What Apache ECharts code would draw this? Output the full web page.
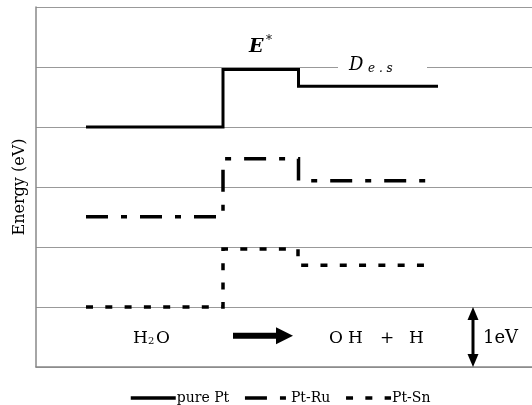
<!DOCTYPE html>
<html><head><meta charset="utf-8">
<script src="https://cdn.jsdelivr.net/npm/echarts@6/dist/echarts.min.js"></script>
<style>html,body{margin:0;padding:0;background:#fff}#c{width:532px;height:405px}</style>
</head><body><div id="c"></div>
<script>
// Reaction coordinate (x) and energy levels (eV) for each catalyst
const seriesNames = ['pure Pt', 'Pt-Ru', 'Pt-Sn'];
const ptX  = [50, 187, 262.5, 402];
const ptY  = [4.0, 4.96, 4.68, 4.68];
const ruX  = [50, 187, 262.5, 391];
const ruY  = [2.505, 3.47, 3.105, 3.105];
const snX  = [50, 187, 262, 399];
const snY  = [1.0, 1.967, 1.695, 1.695];
const yTicks = [0, 1, 2, 3, 4, 5, 6];

const zip = (xs, ys) => xs.map((x, i) => [x, ys[i]]);
const SERIF = '"DejaVu Serif", "Liberation Serif", serif';

const chart = echarts.init(document.getElementById('c'), null, {renderer: 'canvas'});
const option = {
  animation: false,
  backgroundColor: '#fff',
  color: ['#000', '#000', '#000'],
  grid: {left: 36, top: 7, width: 496, height: 360, containLabel: false},
  xAxis: {
    type: 'value', min: 0, max: 496,
    axisLine: {show: true, onZero: false, lineStyle: {color: '#888', width: 1.5}},
    axisTick: {show: false}, axisLabel: {show: false}, splitLine: {show: false}
  },
  yAxis: {
    type: 'value', min: yTicks[0], max: yTicks[yTicks.length - 1], interval: 1,
    name: 'Energy (eV)', nameLocation: 'middle', nameGap: 8,
    nameTextStyle: {fontFamily: SERIF, fontSize: 16, color: '#000'},
    axisLine: {show: true, lineStyle: {color: '#888', width: 1.5}},
    axisTick: {show: false}, axisLabel: {show: false},
    splitLine: {show: true, lineStyle: {color: '#999', width: 1}}
  },
  legend: {
    left: 124, top: 386, itemWidth: 45, itemHeight: 14, itemGap: 14,
    itemStyle: {opacity: 0},
    lineStyle: {width: 3.5},
    textStyle: {fontFamily: SERIF, fontSize: 14, color: '#000', padding: [0, 0, 0, -4]},
    data: seriesNames
  },
  series: [
    {name: seriesNames[0], type: 'line', step: 'end', symbol: 'none', data: zip(ptX, ptY),
     itemStyle: {color: '#000'},
     lineStyle: {color: '#000', width: 3, type: 'solid', cap: 'butt', join: 'miter'}, z: 3},
    {name: seriesNames[1], type: 'line', step: 'end', symbol: 'none', data: zip(ruX, ruY),
     itemStyle: {color: '#000'},
     lineStyle: {color: '#000', width: 3.5, type: [22, 13, 6, 13], cap: 'butt', join: 'miter'}, z: 3},
    {name: seriesNames[2], type: 'line', step: 'end', symbol: 'none', data: zip(snX, snY),
     itemStyle: {color: '#000'},
     lineStyle: {color: '#000', width: 3.5, type: [7, 12.3], cap: 'butt', join: 'miter'}, z: 3}
  ]
};
chart.setOption(option);

// annotations placed through the axes
const P = (x, y) => chart.convertToPixel({gridIndex: 0}, [x, y]);
const txt = (x, y, text, size, extra) => Object.assign({
  type: 'text', x: x, y: y,
  style: Object.assign({text: text, fontFamily: SERIF, fontSize: size, fill: '#000',
    align: 'left', verticalAlign: 'middle'}, extra || {}), z: 10
});
const eStar = P(213, 5.33);
const dLab = P(313, 5.03);
const gapL = P(302, 5.0), gapR = P(391, 5.0);
const h2o = P(97, 0.48);
const arr0 = P(197, 0.52), arr1 = P(257, 0.52);
const oh = P(293, 0.48);
const dbl0 = P(437, 1), dbl1 = P(437, 0);
const ev = P(447, 0.48);

const g = [];
// white gap behind D label
g.push({type: 'rect', shape: {x: gapL[0], y: gapL[1] - 6, width: gapR[0] - gapL[0], height: 12},
  style: {fill: '#fff'}, z: 9});
g.push(txt(eStar[0], eStar[1], 'E', 19, {fontStyle: 'italic', fontWeight: 'bold'}));
g.push(txt(eStar[0] + 17, eStar[1] - 6, '*', 12, {fontStyle: 'italic'}));
g.push(txt(dLab[0], dLab[1], 'D', 18, {fontStyle: 'italic'}));
g.push(txt(dLab[0] + 19, dLab[1] + 4, 'e . s', 12, {fontStyle: 'italic'}));
// H2O
g.push(txt(h2o[0], h2o[1], 'H', 17));
g.push(txt(h2o[0] + 15, h2o[1] + 3, '2', 10));
g.push(txt(h2o[0] + 23, h2o[1], 'O', 17));
// reaction arrow
g.push({type: 'rect', shape: {x: arr0[0], y: arr0[1] - 3, width: arr1[0] - arr0[0] - 15, height: 6},
  style: {fill: '#000'}, z: 10});
g.push({type: 'polygon', shape: {points: [[arr1[0] - 17, arr1[1] - 8.5], [arr1[0], arr1[1]], [arr1[0] - 17, arr1[1] + 8.5]]},
  style: {fill: '#000'}, z: 10});
// OH + H
g.push(txt(oh[0], oh[1], 'O', 17));
g.push(txt(oh[0] + 19, oh[1], 'H', 17));
g.push(txt(oh[0] + 51, oh[1], '+', 17));
g.push(txt(oh[0] + 80, oh[1], 'H', 17));
// 1 eV double arrow
g.push({type: 'line', shape: {x1: dbl0[0], y1: dbl0[1] + 10, x2: dbl1[0], y2: dbl1[1] - 10},
  style: {stroke: '#000', lineWidth: 3}, z: 10});
g.push({type: 'polygon', shape: {points: [[dbl0[0], dbl0[1]], [dbl0[0] + 5.5, dbl0[1] + 13], [dbl0[0] - 5.5, dbl0[1] + 13]]},
  style: {fill: '#000'}, z: 10});
g.push({type: 'polygon', shape: {points: [[dbl1[0], dbl1[1]], [dbl1[0] + 5.5, dbl1[1] - 13], [dbl1[0] - 5.5, dbl1[1] - 13]]},
  style: {fill: '#000'}, z: 10});
g.push(txt(ev[0], ev[1], '1eV', 18));
chart.setOption({graphic: {elements: g}});
</script></body></html>
